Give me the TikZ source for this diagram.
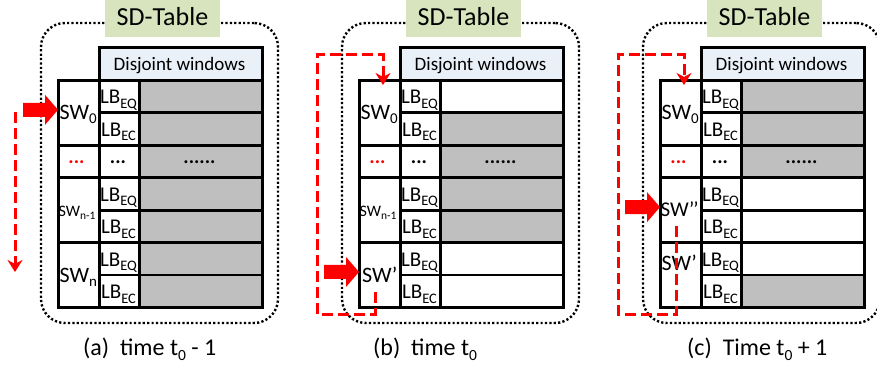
\documentclass[tikz,border=0pt]{standalone}
\usepackage{fontspec}
\setmainfont{Carlito}
\usetikzlibrary{arrows.meta,calc}

\definecolor{cellgray}{RGB}{191,191,191}
\definecolor{titlegreen}{RGB}{215,228,189}
\definecolor{headblue}{RGB}{234,240,248}
\definecolor{arrowred}{RGB}{255,0,0}

% lowered, smaller text for subscripts
\newcommand\lbsub[1]{\raisebox{-4.5pt}{\fontsize{14.5}{14.5}\selectfont #1}}
\newcommand\swsub[1]{\raisebox{-4pt}{\fontsize{15}{15}\selectfont #1}}
\newcommand\smallsub[1]{\raisebox{-3pt}{\fontsize{11.5}{11.5}\selectfont #1}}
\newcommand\capsub[1]{\raisebox{-5pt}{\fontsize{15.5}{15.5}\selectfont #1}}

\tikzset{
  cell/.style={draw=black, line width=2.8pt, inner sep=0pt, anchor=north west},
  frameline/.style={draw=black, line width=2.4pt, dash pattern=on 2.2pt off 2.2pt,
    rounded corners=24pt, inner sep=0pt},
  titlebox/.style={fill=titlegreen, minimum width=115pt, minimum height=37pt, inner sep=0pt},
  titletext/.style={font=\fontsize{26}{26}\selectfont, anchor=base, inner sep=0pt},
  headtext/.style={font=\fontsize{19}{19}\selectfont, anchor=base, inner sep=0pt},
  lbtext/.style={font=\fontsize{21}{21}\selectfont, anchor=base, inner sep=0pt},
  swtext/.style={font=\fontsize{22}{22}\selectfont, anchor=base west, inner sep=0pt},
  swsmall/.style={font=\fontsize{16}{16}\selectfont, anchor=base west, inner sep=0pt},
  dotstext/.style={font=\fontsize{20}{20}\selectfont\bfseries, anchor=base, inner sep=0pt},
  captext/.style={font=\fontsize{24}{24}\selectfont, anchor=base west, inner sep=0pt},
  redloop/.style={draw=arrowred, line width=3pt, dash pattern=on 11pt off 5pt,
    -{Stealth[length=12pt,width=15pt]}},
  bigarrow/.pic={\fill[arrowred] (0,0) -- (-13,-15) -- (-13,-7) -- (-35,-7)
    -- (-35,7) -- (-13,7) -- (-13,15) -- cycle;},
}

% One SD-Table; the seven arguments are the fill colours of the window cells
\newcommand\sdpanel[7]{%
  \node[frameline, minimum width=237pt, minimum height=300pt] (frame) at (159.5,173) {};
  \node[titlebox] (title) at (162.5,18.5) {};
  \node[titletext] (titlelabel) at (162.5,26) {SD-Table};
  \node[cell, fill=headblue, minimum width=163pt, minimum height=33pt] (head) at (98,46) {};
  \node[headtext] (headlabel) at (179.5,70.5) {Disjoint windows};
  \foreach \i/\f in {1/#1,2/#2,3/#3,4/#4,5/#5,6/#6,7/#7}{
    \node[cell, fill=white, minimum width=40pt, minimum height=32.43pt]
      (lb\i) at (98,{79+(\i-1)*32.43}) {};
    \node[cell, fill=\f, minimum width=123pt, minimum height=32.43pt]
      (win\i) at (138,{79+(\i-1)*32.43}) {};
  }
  \node[cell, fill=white, minimum width=41pt, minimum height=64.86pt] (sw0) at (57,79) {};
  \node[cell, fill=white, minimum width=41pt, minimum height=32.43pt] (swdots) at (57,143.86) {};
  \node[cell, fill=white, minimum width=41pt, minimum height=64.86pt] (swA) at (57,176.29) {};
  \node[cell, fill=white, minimum width=41pt, minimum height=64.86pt] (swB) at (57,241.14) {};
  \foreach \i/\s in {1/EQ,2/EC,4/EQ,5/EC,6/EQ,7/EC}{
    \node[lbtext] (lbl\i) at (118.5,{79+(\i-1)*32.43+25}) {LB\lbsub{\s}};
  }
  \node[dotstext, text=arrowred] (swdotslabel) at (76.5,163.5) {...};
  \node[dotstext] (lbl3) at (118,163.5) {...};
  \node[dotstext] (winl3) at (199.5,163.5) {......};
}

\begin{document}
\begin{tikzpicture}[x=1pt, y=-1pt]
\useasboundingbox (0,0) rectangle (877,371);

% (a) time t0 - 1
\begin{scope}[name prefix=a-]
  \sdpanel{cellgray}{cellgray}{cellgray}{cellgray}{cellgray}{cellgray}{cellgray}
  \node[swtext] (sw0label) at (59.5,120) {SW\swsub{0}};
  \node[swsmall] (swAlabel) at (58.5,217) {SW\smallsub{n-1}};
  \node[swtext] (swBlabel) at (59.5,282) {SW\swsub{n}};
  \pic (push) at ($(sw0.west)+(1,-3)$) {bigarrow};
  \coordinate (scanstart) at (15,112);
  \coordinate (scanend) at (15,272);
  \draw[redloop] (scanstart) -- (scanend);
\end{scope}

% (b) time t0
\begin{scope}[xshift=301pt, name prefix=b-]
  \sdpanel{white}{cellgray}{cellgray}{cellgray}{cellgray}{white}{white}
  \node[swtext] (sw0label) at (59.5,120) {SW\swsub{0}};
  \node[swsmall] (swAlabel) at (58.5,217) {SW\smallsub{n-1}};
  \node[swtext] (swBlabel) at (61,282) {SW’};
  \pic (push) at ($(swB.west)+(1,-3)$) {bigarrow};
  \coordinate (loopstart) at (74,292);
  \coordinate (loopend) at (82,85);
  \draw[redloop] (loopstart) |- (16,314) -- (16,55) -| (loopend);
\end{scope}

% (c) time t0 + 1
\begin{scope}[xshift=602pt, name prefix=c-]
  \sdpanel{cellgray}{cellgray}{cellgray}{white}{white}{white}{cellgray}
  \node[swtext] (sw0label) at (59.5,120) {SW\swsub{0}};
  \node[swtext, font=\fontsize{21}{21}\selectfont] (swAlabel) at (58.5,217) {SW’\kern-1pt’};
  \node[swtext] (swBlabel) at (59.5,270) {SW’};
  \pic (push) at ($(swA.west)+(1,-3)$) {bigarrow};
  \coordinate (loopstart) at (74,226);
  \coordinate (loopend) at (82,85);
  \draw[redloop] (loopstart) |- (16,314) -- (16,55) -| (loopend);
\end{scope}

% captions
\node[captext] (capa) at (83,355) {(a)\ \ time t\capsub{0} - 1};
\node[captext] (capb) at (373,355) {(b)\ \ time t\capsub{0}};
\node[captext] (capc) at (687,355) {(c)\ \ Time t\capsub{0} + 1};
\end{tikzpicture}
\end{document}
